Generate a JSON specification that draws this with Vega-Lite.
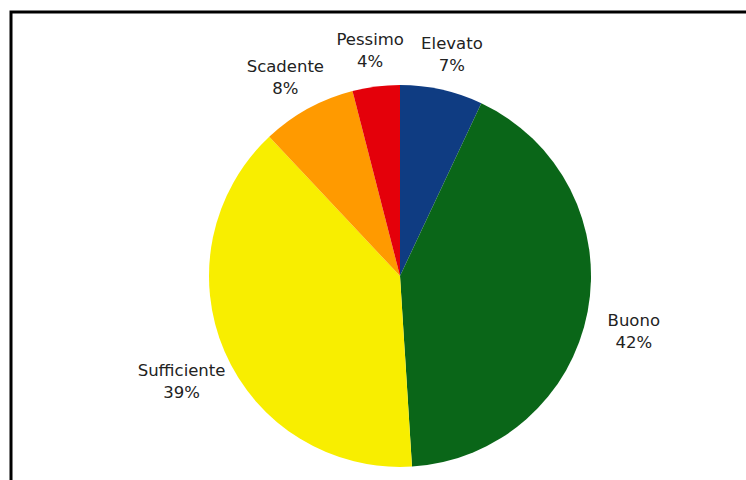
{
  "$schema": "https://vega.github.io/schema/vega-lite/v6.json",
  "autosize": {"type": "none"},
  "padding": {"left": 11, "top": 12, "right": 0, "bottom": 0},
  "width": 778,
  "height": 528,
  "background": "white",
  "view": {"stroke": "black", "strokeWidth": 3, "fill": "white"},
  "config": {
    "text": {"font": "DejaVu Sans"}
  },
  "data": {
    "values": [
      {"classe": "Elevato", "pct": 7, "ordine": 1},
      {"classe": "Buono", "pct": 42, "ordine": 2},
      {"classe": "Sufficiente", "pct": 39, "ordine": 3},
      {"classe": "Scadente", "pct": 8, "ordine": 4},
      {"classe": "Pessimo", "pct": 4, "ordine": 5}
    ]
  },
  "transform": [
    {"calculate": "[datum.classe, datum.pct + '%']", "as": "etichetta"}
  ],
  "encoding": {
    "theta": {"field": "pct", "type": "quantitative", "stack": true},
    "order": {"field": "ordine", "type": "quantitative"}
  },
  "layer": [
    {
      "mark": {"type": "arc", "outerRadius": 191},
      "encoding": {
        "color": {
          "field": "classe",
          "type": "nominal",
          "legend": null,
          "scale": {
            "domain": ["Elevato", "Buono", "Sufficiente", "Scadente", "Pessimo"],
            "range": ["#0f3c82", "#0a6618", "#f8ee00", "#ff9a00", "#e4000a"]
          }
        }
      }
    },
    {
      "mark": {"type": "text", "radius": 238, "fontSize": 16.5, "lineHeight": 22, "color": "#222222", "baseline": "middle"},
      "encoding": {
        "text": {"field": "etichetta"}
      }
    }
  ]
}
